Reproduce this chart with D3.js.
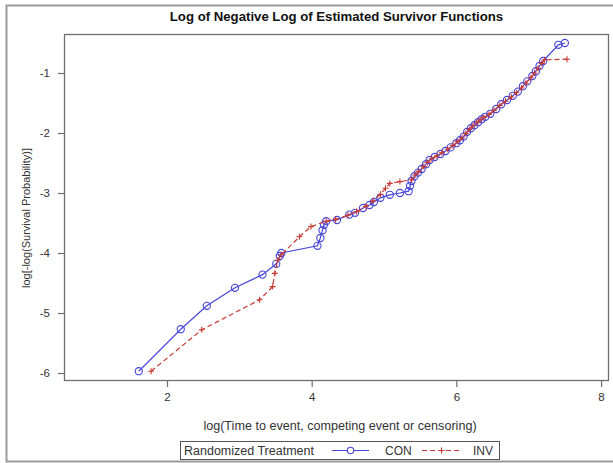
<!DOCTYPE html>
<html>
<head>
<meta charset="utf-8">
<script src="https://cdn.jsdelivr.net/npm/d3@7"></script>
<style>
  html, body { margin: 0; padding: 0; background: #fff; }
  svg { display: block; font-family: "Liberation Sans", Arial, sans-serif; }
</style>
</head>
<body>
<svg id="chart" width="613" height="463"></svg>
<script>
// Log of negative log survivor estimates, by randomized treatment arm
const chartTitle = "Log of Negative Log of Estimated Survivor Functions";
const xTitle = "log(Time to event, competing event or censoring)";
const yTitle = "log[-log(Survival Probability)]";
const legendTitle = "Randomized Treatment";
const groups = ["CON", "INV"];
const xTicks = [2, 4, 6, 8];
const yTicks = [-1, -2, -3, -4, -5, -6];

// CON arm: [log time, log(-log S)]
const conX = [1.61, 2.19, 2.55, 2.94, 3.32, 3.51, 3.56, 3.58, 4.08, 4.12, 4.15, 4.17, 4.20,
  4.35, 4.52, 4.60, 4.71, 4.80, 4.86, 4.95, 5.08, 5.22, 5.34, 5.36, 5.38, 5.42, 5.47, 5.52,
  5.58, 5.63, 5.70, 5.78, 5.85, 5.92, 6.00, 6.05, 6.10, 6.15, 6.20, 6.25, 6.30, 6.35, 6.40,
  6.47, 6.55, 6.62, 6.70, 6.78, 6.85, 6.92, 6.98, 7.05, 7.10, 7.15, 7.20, 7.41, 7.50];
const conY = [-5.97, -5.27, -4.88, -4.58, -4.36, -4.18, -4.05, -4.00, -3.88, -3.75, -3.62, -3.53, -3.47,
  -3.45, -3.36, -3.33, -3.25, -3.20, -3.15, -3.08, -3.03, -3.00, -2.97, -2.88, -2.80, -2.72, -2.66, -2.60,
  -2.52, -2.45, -2.40, -2.35, -2.30, -2.24, -2.17, -2.12, -2.06, -1.98, -1.92, -1.87, -1.82, -1.77, -1.73,
  -1.68, -1.60, -1.52, -1.45, -1.38, -1.31, -1.22, -1.14, -1.05, -0.97, -0.88, -0.80, -0.53, -0.50];

// INV arm
const invX = [1.78, 2.48, 3.28, 3.46, 3.49, 3.53, 3.58, 3.83, 3.99, 4.20, 4.33, 4.50, 4.62,
  4.75, 4.85, 4.95, 5.02, 5.08, 5.22, 5.38, 5.43, 5.48, 5.55, 5.60, 5.66, 5.73, 5.80, 5.88,
  5.95, 6.02, 6.08, 6.13, 6.18, 6.23, 6.28, 6.33, 6.38, 6.45, 6.52, 6.60, 6.68, 6.76, 6.83,
  6.90, 6.96, 7.03, 7.08, 7.13, 7.18, 7.22, 7.53];
const invY = [-5.97, -5.28, -4.78, -4.56, -4.34, -4.12, -4.03, -3.73, -3.56, -3.47, -3.44, -3.37, -3.31,
  -3.22, -3.13, -3.02, -2.92, -2.84, -2.81, -2.78, -2.70, -2.64, -2.56, -2.49, -2.43, -2.38, -2.33, -2.27,
  -2.21, -2.14, -2.08, -2.01, -1.94, -1.88, -1.83, -1.78, -1.74, -1.69, -1.62, -1.54, -1.47, -1.40, -1.33,
  -1.25, -1.17, -1.08, -1.00, -0.92, -0.84, -0.78, -0.77];

const colors = { CON: "#4646d8", INV: "#c83a32" };
const axisGray = "#6e6e6e";
const textGray = "#333";

const svg = d3.select("#chart");

// outer frame
svg.append("path")
  .attr("d", "M613,5.5 H6.5 V461.5 H613")
  .attr("fill", "none").attr("stroke", "#9a9a9a").attr("stroke-width", 2);

const plot = { left: 64, right: 609, top: 34, bottom: 381 };

const x = d3.scaleLinear().domain([0.576, 8.11]).range([plot.left, plot.right]);
const y = d3.scaleLinear().domain([-6.133, -0.35]).range([plot.bottom, plot.top]);

// title
svg.append("text")
  .attr("x", (plot.left + plot.right) / 2).attr("y", 21)
  .attr("text-anchor", "middle").attr("font-weight", "bold")
  .attr("font-size", 13.2).attr("fill", "#111").text(chartTitle);

// plot frame
svg.append("rect")
  .attr("x", plot.left + 0.5).attr("y", plot.top + 0.5)
  .attr("width", plot.right - plot.left - 1).attr("height", plot.bottom - plot.top - 1)
  .attr("fill", "#fff").attr("stroke", axisGray).attr("stroke-width", 1.3);

// axes
const fmt = d => String(d);
const xAxis = svg.append("g")
  .attr("transform", `translate(0,${plot.bottom})`)
  .call(d3.axisBottom(x).tickValues(xTicks).tickFormat(fmt).tickSize(6).tickSizeOuter(0).tickPadding(6));
const yAxis = svg.append("g")
  .attr("transform", `translate(${plot.left},0)`)
  .call(d3.axisLeft(y).tickValues(yTicks).tickFormat(fmt).tickSize(6).tickSizeOuter(0).tickPadding(8));
[xAxis, yAxis].forEach(g => {
  g.select(".domain").remove();
  g.selectAll(".tick line").attr("stroke", axisGray).attr("stroke-width", 1.2);
  g.selectAll(".tick text").attr("fill", textGray).attr("font-size", 11.5)
    .attr("font-family", "Liberation Sans, Arial, sans-serif");
});

// axis titles
svg.append("text")
  .attr("x", 340).attr("y", 430)
  .attr("text-anchor", "middle").attr("font-size", 12.6).attr("fill", textGray).text(xTitle);
svg.append("text")
  .attr("transform", `translate(30,218) rotate(-90)`)
  .attr("text-anchor", "middle").attr("font-size", 11).attr("fill", textGray).text(yTitle);

const series = [
  { key: "CON", pts: conX.map((v, i) => [v, conY[i]]) },
  { key: "INV", pts: invX.map((v, i) => [v, invY[i]]) }
];

const line = d3.line().x(d => x(d[0])).y(d => y(d[1]));
const plusPath = s => `M${-s},0H${s}M0,${-s}V${s}`;

series.forEach(s => {
  const g = svg.append("g");
  g.append("path").datum(s.pts).attr("d", line)
    .attr("fill", "none").attr("stroke", colors[s.key]).attr("stroke-width", 1.2)
    .attr("stroke-dasharray", s.key === "INV" ? "5,3" : null);
  if (s.key === "CON") {
    g.selectAll("circle").data(s.pts).join("circle")
      .attr("cx", d => x(d[0])).attr("cy", d => y(d[1])).attr("r", 3.6)
      .attr("fill", "none").attr("stroke", colors.CON).attr("stroke-width", 1.1);
  } else {
    g.selectAll("path.m").data(s.pts).join("path").attr("class", "m")
      .attr("transform", d => `translate(${x(d[0])},${y(d[1])})`)
      .attr("d", plusPath(3)).attr("stroke", colors.INV).attr("stroke-width", 1.1);
  }
});

// legend
const lg = svg.append("g");
lg.append("rect").attr("x", 180.5).attr("y", 441.5).attr("width", 319).attr("height", 18)
  .attr("fill", "#fff").attr("stroke", "#555").attr("stroke-width", 1);
lg.append("text").attr("x", 184).attr("y", 455).attr("font-size", 12.5).attr("fill", textGray)
  .text(legendTitle);
const entries = [
  { key: "CON", x0: 332, x1: 369, tx: 385 },
  { key: "INV", x0: 422, x1: 461, tx: 473 }
];
entries.forEach(e => {
  lg.append("line").attr("x1", e.x0).attr("x2", e.x1).attr("y1", 450.5).attr("y2", 450.5)
    .attr("stroke", colors[e.key]).attr("stroke-width", 1.1)
    .attr("stroke-dasharray", e.key === "INV" ? "5,3" : null);
  const cx = (e.x0 + e.x1) / 2;
  if (e.key === "CON") {
    lg.append("circle").attr("cx", cx).attr("cy", 450.5).attr("r", 3.2)
      .attr("fill", "#fff").attr("stroke", colors.CON).attr("stroke-width", 1.1);
  } else {
    lg.append("path").attr("transform", `translate(${cx},450.5)`).attr("d", plusPath(3))
      .attr("stroke", colors.INV).attr("stroke-width", 1.1);
  }
  lg.append("text").attr("x", e.tx).attr("y", 455).attr("font-size", 12).attr("fill", textGray)
    .text(e.key);
});
</script>
</body>
</html>
